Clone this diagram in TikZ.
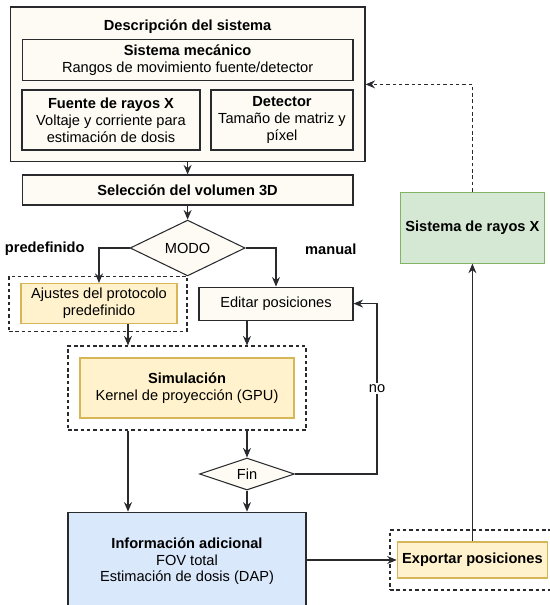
\documentclass[tikz,border=0pt]{standalone}
\usepackage{fontspec}
\setmainfont{Liberation Sans}[Scale=1.04]
\usetikzlibrary{shapes.geometric, arrows.meta}

\definecolor{crema}{RGB}{253,251,243}
\definecolor{amarillo}{RGB}{255,242,204}
\definecolor{amarilloborde}{RGB}{214,182,86}
\definecolor{verde}{RGB}{213,232,212}
\definecolor{verdeborde}{RGB}{130,179,102}
\definecolor{azul}{RGB}{218,232,252}
\definecolor{borde}{RGB}{40,42,46}

\tikzset{
    caja/.style={draw=borde, rectangle, fill=crema, align=center},
    cajaamarilla/.style={draw=amarilloborde, rectangle, fill=amarillo, align=center},
    grupo/.style={draw=borde, rectangle, dash pattern=on 2.5pt off 2pt},
    decision/.style={draw=borde, diamond, fill=crema, inner sep=0pt},
    flecha/.style={->, draw=borde}
}

\begin{document}
\begin{tikzpicture}[>={Stealth[length=2.4mm, width=2mm, inset=0.8mm]}, line width=0.75pt]

    \useasboundingbox (0,0) rectangle (13.75,-15.125);

    % Descripción del sistema
    \node[caja, minimum width=8.87cm, minimum height=3.87cm] (sistema) at (4.69, -2.11) {};
    \node[font=\bfseries] (titulo) at (4.69, -0.675) {Descripción del sistema};

    \node[
        caja,
        minimum width=8.27cm,
        minimum height=0.9cm
    ] (mecanico) at (4.69, -1.5)
        {\textbf{Sistema mecánico}\\Rangos de movimiento fuente/detector};

    \node[
        caja,
        minimum width=4.45cm,
        minimum height=1.5cm
    ] (fuente) at (2.775, -3.0)
        {\textbf{Fuente de rayos X}\\Voltaje y corriente para\\estimación de dosis};

    \node[
        caja,
        minimum width=3.55cm,
        minimum height=1.5cm
    ] (detector) at (7.05, -3.0)
        {\textbf{Detector}\\Tamaño de matriz y\\píxel};

    % Selección y modo
    \node[caja, font=\bfseries, minimum width=8.27cm, minimum height=0.75cm]
        (seleccion) at (4.69, -4.75) {Selección del volumen 3D};
    \node[decision, minimum width=2.875cm, minimum height=1cm] (modo) at (4.69, -6.2) {MODO};

    \node[font=\bfseries] (lblpre) at (1.12, -6.22) {predefinido};
    \node[font=\bfseries] (lblman) at (8.27, -6.22) {manual};

    % Ramas
    \node[grupo, minimum width=4.45cm, minimum height=1.375cm] (grupopre) at (2.45, -7.59) {};
    \node[cajaamarilla, minimum width=3.9cm, minimum height=0.825cm]
        (ajustes) at (2.475, -7.59) {Ajustes del protocolo\\predefinido};
    \node[caja, minimum width=3.85cm, minimum height=0.825cm]
        (editar) at (6.9, -7.59) {Editar posiciones};

    % Simulación
    \node[grupo, minimum width=5.95cm, minimum height=2.1cm] (gruposim) at (4.675, -9.7) {};
    \node[cajaamarilla, minimum width=5.35cm, minimum height=1.5cm]
        (simulacion) at (4.675, -9.7) {\textbf{Simulación}\\Kernel de proyección (GPU)};

    \node[decision, minimum width=2.375cm, minimum height=0.8cm] (fin) at (6.175, -11.85) {Fin};

    % Resultados
    \node[
        draw=borde,
        rectangle,
        fill=azul,
        minimum width=5.95cm,
        minimum height=2.45cm,
        align=center
    ] (info) at (4.675, -14.03)
        {\textbf{Información adicional}\\FOV total\\Estimación de dosis (DAP)};

    \node[grupo, minimum width=4.2cm, minimum height=1.5cm] (grupoexp) at (11.85, -14.0) {};
    \node[cajaamarilla, font=\bfseries, minimum width=3.525cm, minimum height=0.9cm]
        (exportar) at (11.81, -14.0) {Exportar posiciones};

    \node[
        draw=verdeborde,
        rectangle,
        fill=verde,
        font=\bfseries,
        minimum width=3.525cm,
        minimum height=1.775cm
    ] (rayosx) at (11.81, -5.69) {Sistema de rayos X};

    % Carriles
    \coordinate (carril) at (3.2, 0);
    \coordinate (lazo) at (9.425, 0);

    % Conexiones
    \draw[flecha] (sistema) -- (seleccion);
    \draw[flecha] (seleccion) -- (modo);
    \draw[flecha] (modo.west) -| (ajustes.north);
    \draw[flecha] (modo.east) -| (editar.north);
    \draw[flecha] (carril |- ajustes.south) -- (carril |- gruposim.north);
    \draw[flecha] (fin |- editar.south) -- (fin |- gruposim.north);
    \draw[flecha] (carril |- gruposim.south) -- (carril |- info.north);
    \draw[flecha] (fin |- gruposim.south) -- (fin.north);
    \draw[flecha] (fin.south) -- (fin |- info.north);
    \draw[flecha] (fin.east) -- (lazo |- fin.east)
        -- node[fill=white, inner sep=1pt] {no} (lazo |- editar.east) -- (editar.east);
    \draw[flecha] (info.east |- exportar.west) -- (exportar.west);
    \draw[flecha] (exportar) -- (rayosx);
    \draw[flecha, dash pattern=on 2.5pt off 2pt] (rayosx.north) |- (sistema.east);

\end{tikzpicture}
\end{document}
